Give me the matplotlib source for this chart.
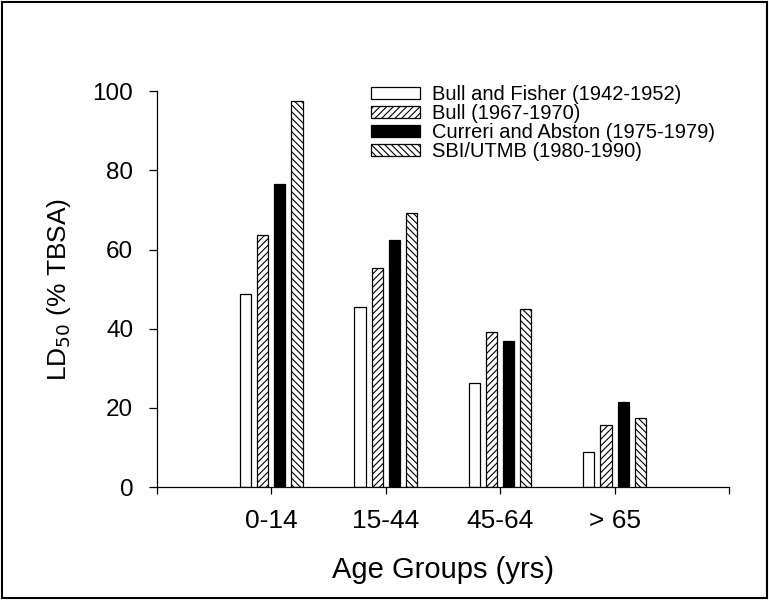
import matplotlib
matplotlib.use("Agg")
import matplotlib.pyplot as plt
from matplotlib.patches import Rectangle
import numpy as np

plt.rcParams['font.family'] = ['Liberation Sans', 'DejaVu Sans']
plt.rcParams['hatch.linewidth'] = 0.8

categories = ['0-14', '15-44', '45-64', '> 65']
series_names = ['Bull and Fisher (1942-1952)', 'Bull (1967-1970)',
                'Curreri and Abston (1975-1979)', 'SBI/UTMB (1980-1990)']
bull_fisher = [48.7, 45.4, 26.2, 8.9]
bull = [63.6, 55.3, 39.1, 15.8]
curreri = [76.5, 62.3, 37.0, 21.6]
sbi = [97.5, 69.2, 45.0, 17.6]
y_ticks = [0, 20, 40, 60, 80, 100]

series = [bull_fisher, bull, curreri, sbi]
faces = ['white', 'white', 'black', 'white']
hatches = [None, '/////', None, '\\\\\\\\\\']

fig = plt.figure(figsize=(7.69, 6.0), dpi=100)
ax = fig.add_axes([0.204, 0.188, 0.744, 0.660])

x = np.arange(1, len(categories) + 1)
pitch = 0.15
width = 0.097
for i, (vals, fc, h, name) in enumerate(zip(series, faces, hatches, series_names)):
    ax.bar(x + (i - 1.5) * pitch, vals, width=width, color=fc, edgecolor='black',
           linewidth=0.9, hatch=h, label=name)

ax.set_xlim(0, 5)
ax.set_ylim(0, 100)
ax.set_xticks([0, 1, 2, 3, 4, 5])
ax.set_xticklabels([''] + categories + [''])
ax.set_yticks(y_ticks)
ax.tick_params(axis='both', direction='out', width=0.9, color='black', pad=11)
ax.tick_params(axis='x', length=5, labelsize=19)
ax.tick_params(axis='y', length=6, labelsize=17.5)
for s in ['top', 'right']:
    ax.spines[s].set_visible(False)
for s in ['left', 'bottom']:
    ax.spines[s].set_linewidth(0.9)

ax.set_xlabel('Age Groups (yrs)', fontsize=21, labelpad=16)
ax.set_ylabel('LD$_{50}$ (% TBSA)', fontsize=19, labelpad=14)

ax.legend(loc='upper left', bbox_to_anchor=(0.375, 1.015), frameon=False,
          fontsize=14.5, handlelength=2.4, handleheight=0.5, handletextpad=0.6,
          labelspacing=0.0, borderpad=0, borderaxespad=0)

fig.patches.append(Rectangle((0.003, 0.003), 0.994, 0.994, transform=fig.transFigure,
                             fill=False, edgecolor='black', linewidth=1.5))

fig.savefig('out.png', dpi=100)
